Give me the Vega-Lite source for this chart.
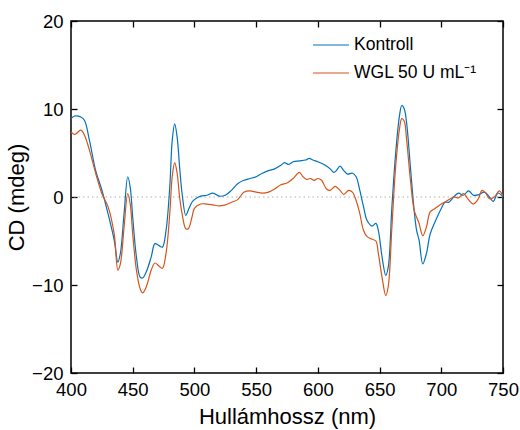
{
  "$schema": "https://vega.github.io/schema/vega-lite/v6.json",
  "width": 432,
  "height": 352,
  "autosize": {"type": "none"},
  "padding": {"left": 71, "top": 21, "right": 17, "bottom": 57},
  "config": {
    "view": {"stroke": "#000", "strokeWidth": 1.5},
    "font": "Liberation Sans",
    "axis": {"domain": false, "grid": false, "labelFlush": false, "tickColor": "#000", "tickWidth": 1.3, "tickSize": -6, "labelColor": "#000", "labelFontSize": 18.5, "titleColor": "#000", "titleFontWeight": "normal", "titleFontSize": 22}
  },
  "datasets": {
    "k": [
      {"wl":400,"cd":8.9},{"wl":403,"cd":9.2},{"wl":408,"cd":9.1},{"wl":411,"cd":8.7},{"wl":415,"cd":6.4},{"wl":420,"cd":3.0},{"wl":425,"cd":0.8},{"wl":430,"cd":-1.9},{"wl":435,"cd":-4.9},{"wl":438,"cd":-7.4},{"wl":440,"cd":-6.4},{"wl":443,"cd":-1.9},{"wl":446,"cd":2.3},{"wl":448,"cd":1.1},{"wl":450,"cd":-2.3},{"wl":453,"cd":-6.8},{"wl":456,"cd":-9.1},{"wl":458,"cd":-9.2},{"wl":461,"cd":-8.5},{"wl":465,"cd":-6.8},{"wl":468,"cd":-5.3},{"wl":471,"cd":-5.5},{"wl":474,"cd":-5.7},{"wl":477,"cd":-3.8},{"wl":480,"cd":1.1},{"wl":482,"cd":6.4},{"wl":484,"cd":8.3},{"wl":486,"cd":6.8},{"wl":488,"cd":3.4},{"wl":490,"cd":0.4},{"wl":493,"cd":-2.1},{"wl":495,"cd":-1.5},{"wl":498,"cd":-0.6},{"wl":500,"cd":-0.3},{"wl":505,"cd":0.1},{"wl":510,"cd":0.2},{"wl":515,"cd":0.45},{"wl":520,"cd":0.1},{"wl":525,"cd":0.2},{"wl":530,"cd":0.75},{"wl":535,"cd":1.5},{"wl":540,"cd":1.9},{"wl":545,"cd":2.1},{"wl":550,"cd":2.3},{"wl":555,"cd":2.7},{"wl":560,"cd":3.0},{"wl":565,"cd":3.2},{"wl":570,"cd":3.6},{"wl":573,"cd":3.9},{"wl":576,"cd":3.7},{"wl":580,"cd":4.0},{"wl":585,"cd":4.1},{"wl":590,"cd":4.2},{"wl":593,"cd":4.4},{"wl":596,"cd":4.2},{"wl":600,"cd":4.0},{"wl":605,"cd":3.7},{"wl":610,"cd":3.2},{"wl":613,"cd":2.8},{"wl":615,"cd":3.0},{"wl":618,"cd":3.5},{"wl":621,"cd":3.0},{"wl":624,"cd":2.6},{"wl":628,"cd":2.7},{"wl":631,"cd":2.3},{"wl":634,"cd":0.75},{"wl":637,"cd":-1.1},{"wl":640,"cd":-2.7},{"wl":644,"cd":-3.3},{"wl":647,"cd":-3.0},{"wl":649,"cd":-3.8},{"wl":652,"cd":-6.8},{"wl":655,"cd":-8.9},{"wl":657,"cd":-8.0},{"wl":660,"cd":-1.1},{"wl":663,"cd":4.9},{"wl":666,"cd":9.1},{"wl":668,"cd":10.4},{"wl":670,"cd":10.0},{"wl":672,"cd":8.3},{"wl":675,"cd":3.4},{"wl":678,"cd":-1.5},{"wl":680,"cd":-3.8},{"wl":682,"cd":-4.9},{"wl":685,"cd":-7.6},{"wl":688,"cd":-6.4},{"wl":691,"cd":-4.2},{"wl":695,"cd":-2.8},{"wl":700,"cd":-1.3},{"wl":703,"cd":-0.6},{"wl":706,"cd":-0.6},{"wl":710,"cd":0.0},{"wl":714,"cd":0.45},{"wl":718,"cd":0.2},{"wl":722,"cd":0.7},{"wl":726,"cd":0.2},{"wl":730,"cd":0.25},{"wl":735,"cd":0.55},{"wl":739,"cd":0.0},{"wl":742,"cd":-0.5},{"wl":746,"cd":0.45},{"wl":750,"cd":0.0}
    ],
    "w": [
      {"wl":400,"cd":7.4},{"wl":403,"cd":7.1},{"wl":408,"cd":7.6},{"wl":411,"cd":7.0},{"wl":415,"cd":5.3},{"wl":420,"cd":2.7},{"wl":425,"cd":0.4},{"wl":430,"cd":-1.1},{"wl":435,"cd":-4.2},{"wl":438,"cd":-8.3},{"wl":440,"cd":-7.6},{"wl":443,"cd":-3.4},{"wl":446,"cd":0.4},{"wl":448,"cd":-0.8},{"wl":450,"cd":-4.2},{"wl":453,"cd":-8.3},{"wl":456,"cd":-10.4},{"wl":458,"cd":-10.9},{"wl":461,"cd":-10.2},{"wl":465,"cd":-8.3},{"wl":468,"cd":-7.5},{"wl":471,"cd":-7.8},{"wl":474,"cd":-8.1},{"wl":477,"cd":-6.4},{"wl":480,"cd":-1.9},{"wl":482,"cd":2.3},{"wl":484,"cd":3.9},{"wl":486,"cd":2.7},{"wl":488,"cd":0.0},{"wl":490,"cd":-1.9},{"wl":493,"cd":-3.6},{"wl":495,"cd":-3.6},{"wl":498,"cd":-2.3},{"wl":500,"cd":-1.3},{"wl":505,"cd":-0.8},{"wl":510,"cd":-0.8},{"wl":515,"cd":-0.9},{"wl":520,"cd":-1.0},{"wl":525,"cd":-0.9},{"wl":530,"cd":-0.6},{"wl":535,"cd":-0.3},{"wl":540,"cd":0.55},{"wl":545,"cd":0.7},{"wl":550,"cd":0.55},{"wl":555,"cd":0.45},{"wl":560,"cd":0.55},{"wl":565,"cd":0.9},{"wl":570,"cd":1.4},{"wl":575,"cd":1.6},{"wl":580,"cd":2.1},{"wl":585,"cd":2.8},{"wl":588,"cd":2.3},{"wl":591,"cd":2.0},{"wl":594,"cd":2.1},{"wl":597,"cd":1.9},{"wl":600,"cd":2.1},{"wl":603,"cd":1.9},{"wl":607,"cd":0.9},{"wl":610,"cd":0.75},{"wl":614,"cd":1.2},{"wl":618,"cd":0.75},{"wl":621,"cd":0.3},{"wl":625,"cd":0.75},{"wl":628,"cd":0.55},{"wl":631,"cd":-0.4},{"wl":634,"cd":-1.9},{"wl":637,"cd":-3.8},{"wl":640,"cd":-4.5},{"wl":644,"cd":-4.8},{"wl":647,"cd":-5.0},{"wl":649,"cd":-6.4},{"wl":652,"cd":-9.1},{"wl":655,"cd":-11.2},{"wl":657,"cd":-10.2},{"wl":660,"cd":-3.4},{"wl":663,"cd":3.4},{"wl":666,"cd":7.6},{"wl":668,"cd":8.9},{"wl":670,"cd":8.6},{"wl":672,"cd":6.4},{"wl":675,"cd":1.9},{"wl":678,"cd":-1.5},{"wl":680,"cd":-2.3},{"wl":682,"cd":-3.0},{"wl":685,"cd":-4.4},{"wl":688,"cd":-3.4},{"wl":691,"cd":-1.7},{"wl":695,"cd":-1.3},{"wl":700,"cd":-0.8},{"wl":705,"cd":-0.4},{"wl":710,"cd":0.0},{"wl":714,"cd":-0.1},{"wl":718,"cd":0.4},{"wl":722,"cd":-0.3},{"wl":726,"cd":-0.8},{"wl":730,"cd":-0.2},{"wl":733,"cd":0.75},{"wl":736,"cd":0.45},{"wl":739,"cd":-0.2},{"wl":743,"cd":0.0},{"wl":747,"cd":0.7},{"wl":750,"cd":0.1}
    ]
  },
  "layer": [
    {
      "data": {"values": [{"z": 0}]},
      "mark": {"type": "rule", "color": "#b0b0b0", "strokeDash": [1.5, 3], "strokeWidth": 1},
      "encoding": {
        "y": {"field": "z", "type": "quantitative", "scale": {"domain": [-20, 20]},
          "axis": {"orient": "right", "labels": false, "title": null, "values": [-20, -10, 0, 10, 20]}}
      }
    },
    {
      "data": {"name": "k"},
      "transform": [{"calculate": "'Kontroll'", "as": "s"}],
      "mark": {"type": "line", "strokeWidth": 1.2, "interpolate": "catmull-rom", "clip": true},
      "encoding": {
        "x": {"field": "wl", "type": "quantitative", "scale": {"domain": [400, 750], "nice": false},
          "axis": {"title": "Hullámhossz (nm)", "values": [400, 450, 500, 550, 600, 650, 700, 750], "labelPadding": 13, "titlePadding": 8}},
        "y": {"field": "cd", "type": "quantitative", "scale": {"domain": [-20, 20]},
          "axis": {"title": "CD (mdeg)", "values": [-20, -10, 0, 10, 20], "labelPadding": 14, "titlePadding": 3}},
        "color": {"field": "s", "type": "nominal",
          "scale": {"domain": ["Kontroll", "WGL 50 U mL⁻¹"], "range": ["#0072BD", "#D95319"]},
          "legend": {"title": null, "orient": "none", "legendX": 241, "legendY": 5, "symbolType": "stroke", "symbolSize": 1296, "symbolStrokeWidth": 1.2, "labelFontSize": 17.5, "labelColor": "#000", "rowPadding": -3, "labelOffset": 4}}
      }
    },
    {
      "data": {"name": "w"},
      "transform": [{"calculate": "'WGL 50 U mL⁻¹'", "as": "s"}],
      "mark": {"type": "line", "strokeWidth": 1.2, "interpolate": "catmull-rom", "clip": true},
      "encoding": {
        "x": {"field": "wl", "type": "quantitative", "scale": {"domain": [400, 750], "nice": false},
          "axis": {"orient": "top", "labels": false, "title": null, "values": [400, 450, 500, 550, 600, 650, 700, 750]}},
        "y": {"field": "cd", "type": "quantitative", "axis": null},
        "color": {"field": "s", "type": "nominal"}
      }
    }
  ],
  "resolve": {"axis": {"x": "independent", "y": "independent"}}
}
